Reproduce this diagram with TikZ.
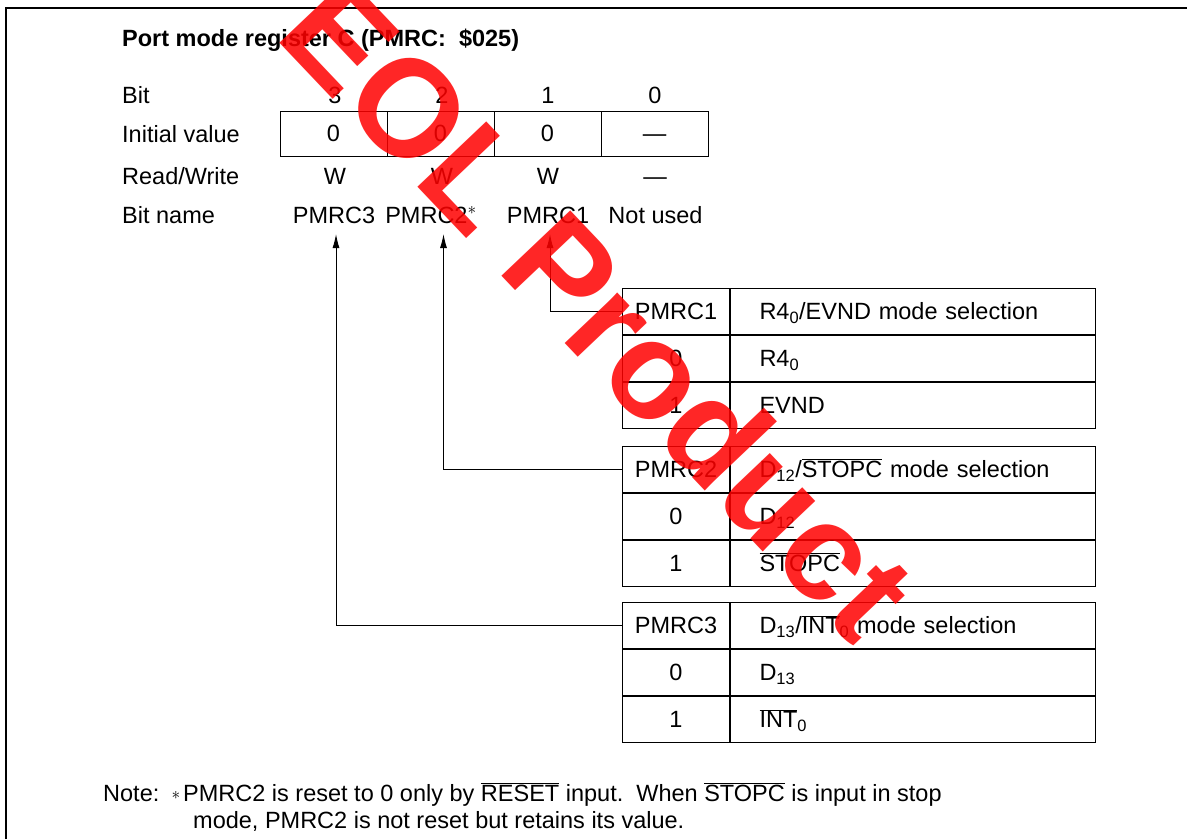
\documentclass[tikz,border=0pt]{standalone}
\usepackage{fontspec}
\setmainfont{Liberation Sans}
\usetikzlibrary{arrows.meta}

% overline for signal names in text
\newcommand{\ovl}[1]{$\overline{\hbox{#1}}$}

% one mode table: prefix, top, bit name, heading, text for 0, text for 1
\newcommand{\modetable}[6]{%
\node [numcell, anchor=north west] (#1h) at (622,#2) {#3};
\node [desccell, anchor=north west] (#1hd) at (#1h.north east) {#4};
\node [numcell, anchor=north] (#1a) at (#1h.south) {0};
\node [desccell, anchor=north] (#1ad) at (#1hd.south) {#5};
\node [numcell, anchor=north] (#1b) at (#1a.south) {1};
\node [desccell, anchor=north] (#1bd) at (#1ad.south) {#6};
}

\begin{document}
\begin{tikzpicture}[x=1pt,y=-1pt,
  font=\fontsize{23.5}{28}\selectfont,
  txt/.style={inner sep=0pt, text height=16.8pt, text depth=0pt},
  bitcell/.style={txt, draw, line width=1pt, minimum width=107pt, minimum height=45pt},
  numcell/.style={txt, draw, line width=1pt, minimum width=107pt, minimum height=46pt},
  desccell/.style={txt, draw, line width=1pt, text width=307pt, inner xsep=29pt, minimum height=46pt, align=left},
  link/.style={line width=1pt, -{Latex[length=14pt,width=7pt]}}]
\useasboundingbox (0,0) rectangle (1187,839);

% frame, top and left only
\draw[line width=1.5pt] (6,839) -- (6,8) -- (1187,8);

\node [anchor=west, txt, font=\fontsize{23.5}{28}\selectfont\bfseries] (title) at (122,38) {Port mode register C (PMRC:\ \ \$025)};

% register rows
\node [anchor=west, txt] (lbit) at (122,95) {Bit};
\node [anchor=west, txt] (linit) at (122,134) {Initial value};
\node [anchor=west, txt] (lrw) at (122,176) {Read/Write};
\node [anchor=west, txt] (lname) at (122,215) {Bit name};

\foreach \b/\x in {3/335,2/442,1/548,0/655}
  \node [txt] (bit\b) at (\x,95) {\b};
\foreach \b/\x/\v in {3/333.5/0,2/440.5/0,1/547.5/0,0/654.5/—}
  \node [bitcell] (init\b) at (\x,133.5) {\v};
\foreach \b/\x/\v in {3/335/W,2/442/W,1/548/W,0/655/—}
  \node [txt] (rw\b) at (\x,176) {\v};

\node [txt] (name3) at (334,215) {PMRC3};
\node [txt] (name2) at (431,215) {PMRC2$^{\ast}$};
\node [txt] (name1) at (548,215) {PMRC1};
\node [txt] (name0) at (655.5,215) {Not used};

\coordinate (tip3) at (336,234);
\coordinate (tip2) at (443.5,234);
\coordinate (tip1) at (550,234);

% mode tables
\modetable{t1}{288}{PMRC1}{R4\textsubscript{0}/EVND mode selection}{R4\textsubscript{0}}{EVND}
\modetable{t2}{445.5}{PMRC2}{D\textsubscript{12}/\ovl{STOPC} mode selection}{D\textsubscript{12}}{\ovl{STOPC}}
\modetable{t3}{602}{PMRC3}{D\textsubscript{13}/\ovl{INT}\textsubscript{0} mode selection}{D\textsubscript{13}}{\ovl{INT}\textsubscript{0}}

\draw[link] (t1h.west) -| (tip1);
\draw[link] (t2h.west) -| (tip2);
\draw[link] (t3h.west) -| (tip3);

% note
\node [anchor=base west, inner sep=0pt] (note) at (103,801) {Note:};
\node [anchor=base west, inner sep=0pt] (note1) at (183,801) {\llap{\raisebox{2pt}{\fontsize{19}{19}\selectfont$\ast$}\hspace{3pt}}PMRC2 is reset to 0 only by \ovl{RESET} input.\ \ When \ovl{STOPC} is input in stop};
\node [anchor=base west, inner sep=0pt] (note2) at (193,828) {mode, PMRC2 is not reset but retains its value.};

% watermark
\node [rotate=-46.5, text=red, opacity=0.85, inner sep=0pt, font=\fontsize{138}{140}\selectfont\bfseries] (eol) at (600,308) {EOL Product};
\end{tikzpicture}
\end{document}
